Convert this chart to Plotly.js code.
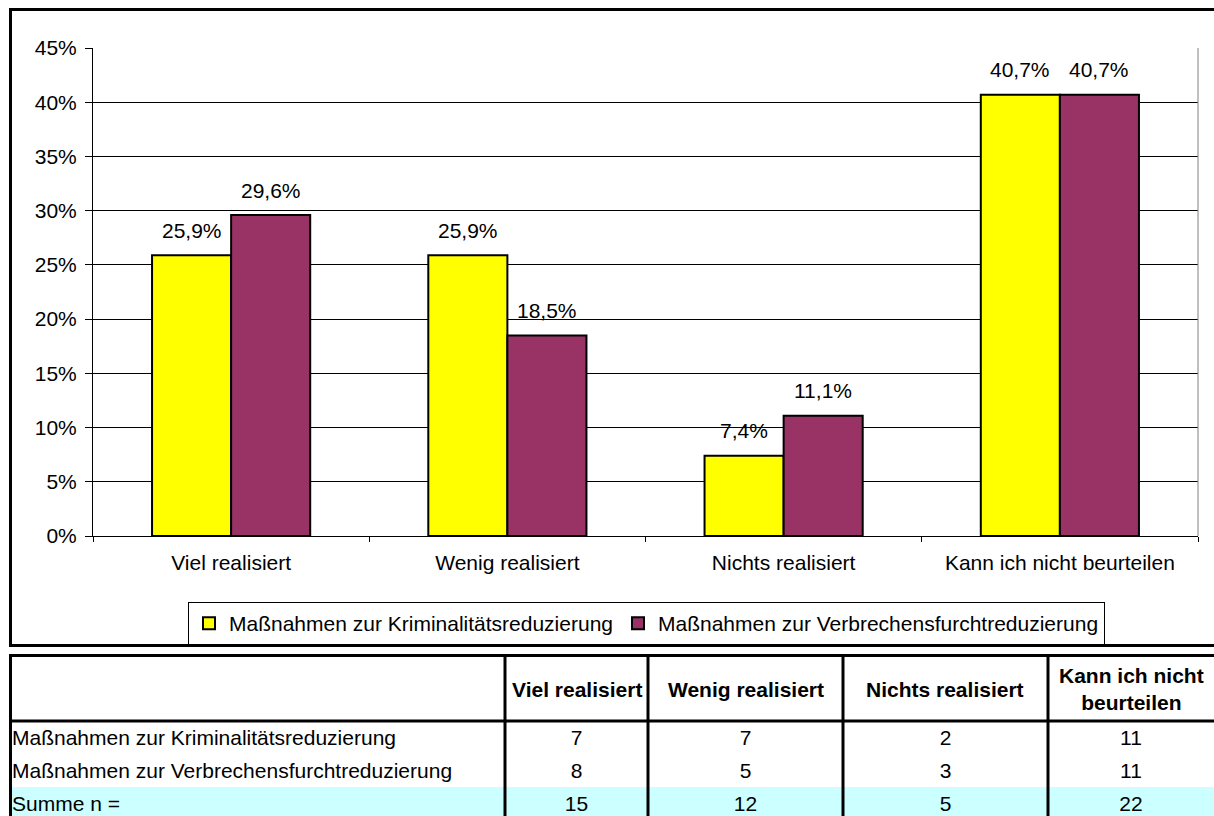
<!DOCTYPE html>
<html><head><meta charset="utf-8">
<script src="https://cdn.plot.ly/plotly-3.0.1.min.js"></script>
<style>html,body{margin:0;padding:0;overflow:hidden;background:#fff}#chart{width:1214px;height:840px}</style>
</head><body><div id="chart"></div>
<script>
// ---- data ----
const categories = ['Viel realisiert', 'Wenig realisiert', 'Nichts realisiert', 'Kann ich nicht beurteilen'];
const headerLabels = ['Viel realisiert', 'Wenig realisiert', 'Nichts realisiert', 'Kann ich nicht<br>beurteilen'];
const seriesNames = ['Maßnahmen zur Kriminalitätsreduzierung', 'Maßnahmen zur Verbrechensfurchtreduzierung'];
const pctKrim = [25.9, 25.9, 7.4, 40.7];
const pctFurcht = [29.6, 18.5, 11.1, 40.7];
const nKrim = [7, 7, 2, 11];
const nFurcht = [8, 5, 3, 11];
const nSum = [15, 12, 5, 22];
const sumLabel = 'Summe n =';
const yTickVals = [0, 5, 10, 15, 20, 25, 30, 35, 40, 45];
const yTickText = ['0%', '5%', '10%', '15%', '20%', '25%', '30%', '35%', '40%', '45%'];

// ---- layout constants ----
const W = 1214, H = 840;
const px = x => x / W;
const py = y => 1 - y / H;
const FONT = 'Liberation Sans, Arial, sans-serif';
const BARGAP = 0.4275;
const colEdges = [4, 505, 648, 843, 1048, 1214];
const colors = ['#FFFF00', '#993366'];

const fmt = v => v.toFixed(1).replace('.', ',') + '%';

const seriesVals = [pctKrim, pctFurcht];
const traces = seriesVals.map((vals, s) => ({
  type: 'bar', name: seriesNames[s], x: categories, y: vals,
  marker: {color: colors[s], line: {color: '#000', width: 2}},
  hoverinfo: 'skip'
}));

const colWidths = colEdges.slice(1).map((e, i) => e - colEdges[i]);
const cellCols = [[seriesNames[0], seriesNames[1], sumLabel]].concat(
  categories.map((c, j) => [nKrim[j], nFurcht[j], nSum[j]]));

traces.push({
  type: 'table',
  domain: {x: [px(colEdges[0]), 1], y: [0, py(655)]},
  columnwidth: colWidths,
  header: {values: cellCols.map(() => ''), height: 66, fill: {color: '#fff'}, line: {width: 0, color: '#fff'}},
  cells: {
    values: cellCols, height: 33,
    align: ['left', 'center', 'center', 'center', 'center'],
    fill: {color: cellCols.map(() => ['#fff', '#fff', '#CCFFFF'])},
    line: {width: 0, color: '#fff'},
    font: {family: FONT, size: 21, color: '#000'}
  }
});

const annotations = [];
seriesVals.forEach((vals, s) => vals.forEach((v, j) => {
  annotations.push({
    x: j + (s === 0 ? -1 : 1) * (1 - BARGAP) / 4, y: v, xref: 'x', yref: 'y',
    text: fmt(v), showarrow: false, yanchor: 'middle', yshift: 25,
    font: {family: FONT, size: 21, color: '#000'}
  });
}));
headerLabels.forEach((h, j) => {
  annotations.push({
    x: px((colEdges[j + 1] + colEdges[j + 2]) / 2), y: py(689), xref: 'paper', yref: 'paper',
    text: '<b>' + h + '</b>', showarrow: false, xanchor: 'center', yanchor: 'middle',
    font: {family: FONT, size: 21, color: '#000'}
  });
});

const line = (x0, y0, x1, y1, w, c) => ({type: 'line', xref: 'paper', yref: 'paper',
  x0: px(x0), y0: py(y0), x1: px(x1), y1: py(y1), line: {color: c || '#000', width: w}});

const shapes = [
  // chart frame (right edge lies outside the picture)
  line(9, 9.5, 1214, 9.5, 3),
  line(10.5, 8, 10.5, 647, 3),
  line(9, 645.5, 1214, 645.5, 3),
  // plot area right border
  {type: 'line', xref: 'x domain', yref: 'y domain', x0: 1, x1: 1, y0: 0, y1: 1, line: {color: '#808080', width: 1}},
  // cover left of table border
  {type: 'rect', xref: 'paper', yref: 'paper', x0: 0, x1: px(9), y0: 0, y1: py(655),
   line: {width: 0}, fillcolor: '#fff'},
  // table grid
  line(9, 655.5, 1214, 655.5, 3),
  line(9, 721, 1214, 721, 3),
  line(10.5, 655, 10.5, 840, 3)
].concat(colEdges.slice(1, 5).map(x => line(x, 655, x, 840, 3)));

const layout = {
  width: W, height: H,
  margin: {l: 0, r: 0, t: 0, b: 0},
  paper_bgcolor: '#fff', plot_bgcolor: '#fff',
  font: {family: FONT, size: 21, color: '#000'},
  barmode: 'group', bargap: BARGAP, bargroupgap: 0,
  xaxis: {domain: [px(93), px(1198)], type: 'category', showline: true, linecolor: '#000', linewidth: 1,
    ticks: 'outside', tickson: 'boundaries', ticklen: 5, tickcolor: '#000', showgrid: false,
    tickfont: {family: FONT, size: 21, color: '#000'}, ticklabelstandoff: 8, fixedrange: true},
  yaxis: {domain: [py(536), py(48)], range: [0, 45], tickmode: 'array', tickvals: yTickVals, ticktext: yTickText,
    showline: true, linecolor: '#000', linewidth: 1, ticks: 'outside', ticklen: 7, tickcolor: '#000',
    showgrid: true, gridcolor: '#000', gridwidth: 1, zeroline: false,
    tickfont: {family: FONT, size: 21, color: '#000'}, ticklabelstandoff: 4, fixedrange: true},
  showlegend: true,
  legend: {orientation: 'h', x: px(646.5), xanchor: 'center', y: py(602), yanchor: 'top',
    bordercolor: '#000', borderwidth: 1, bgcolor: '#fff', itemwidth: 30,
    font: {family: FONT, size: 21, color: '#000'}},
  annotations: annotations,
  shapes: shapes
};

Plotly.newPlot('chart', traces, layout, {displayModeBar: false, staticPlot: true});
</script>
</body></html>
